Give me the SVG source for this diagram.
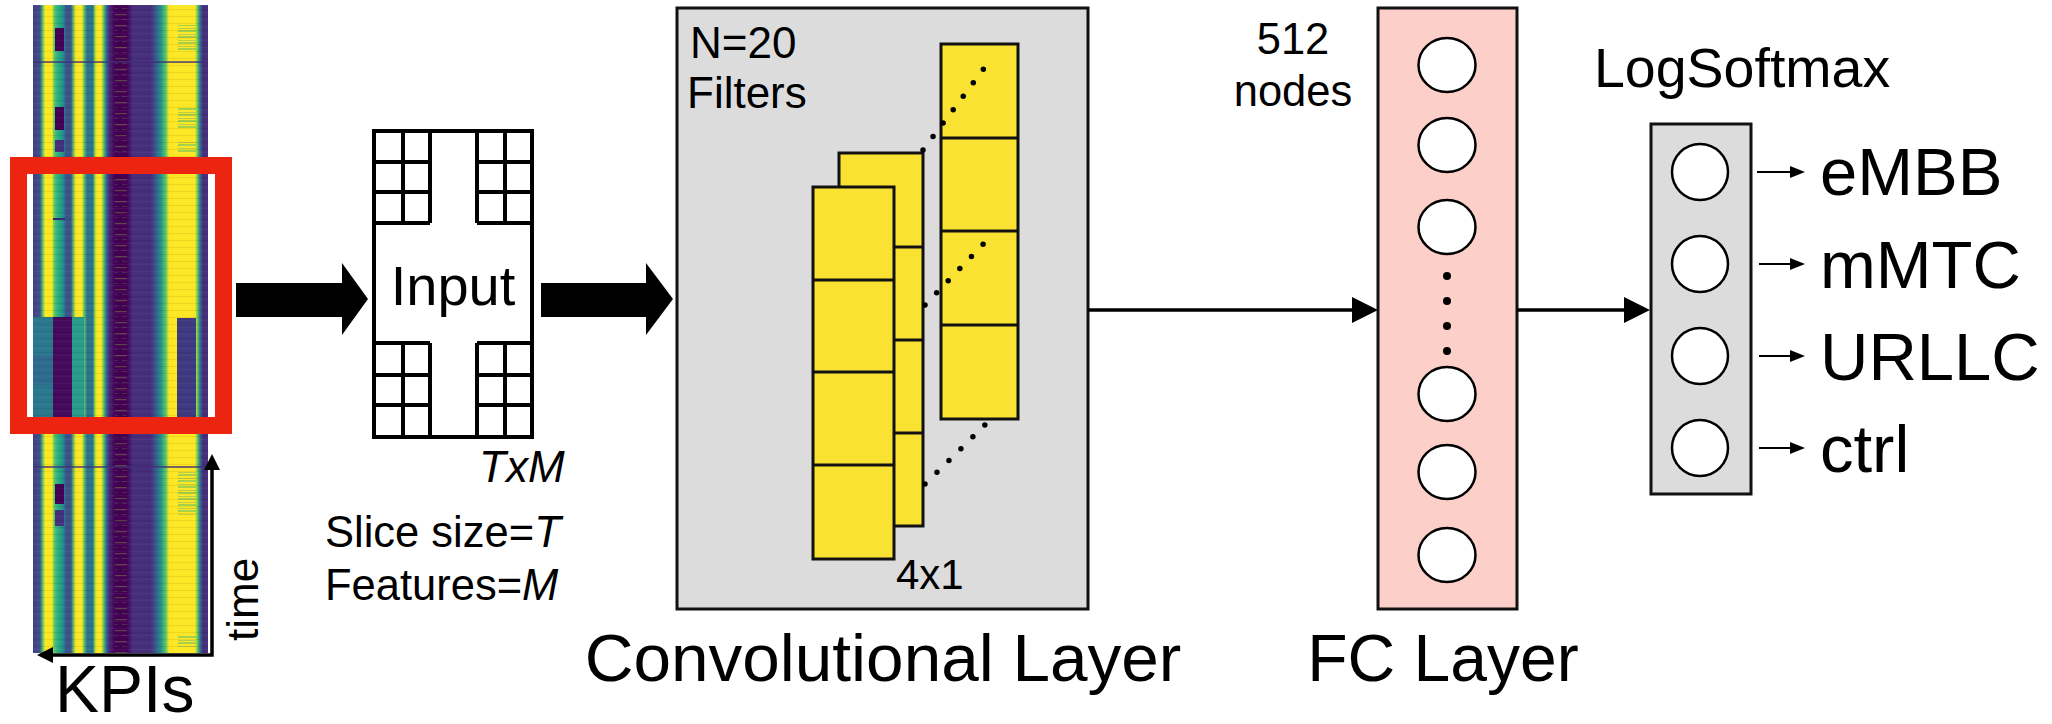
<svg xmlns="http://www.w3.org/2000/svg" width="2052" height="724" viewBox="0 0 2052 724">
<style>
text{font-family:"Liberation Sans",Arial,Helvetica,sans-serif;fill:#000}
.big{font-size:66px}
.mid{font-size:43.5px}
.grid{fill:none;stroke:#000;stroke-width:4}
.yel{fill:#FAE232;stroke:#111;stroke-width:3}
.box{stroke:#111;stroke-width:3}
.cir{fill:#fff;stroke:#000;stroke-width:2.5}
.dots{fill:none;stroke:#000;stroke-width:5.5;stroke-linecap:round;stroke-dasharray:0 16.8}
.conn{fill:none;stroke:#000;stroke-width:3.5}
.thin{fill:none;stroke:#000;stroke-width:2.2}
</style>
<defs>
<linearGradient id="hm" x1="0" y1="0" x2="1" y2="0">
<stop offset="0" stop-color="#433e85"/>
<stop offset="0.04" stop-color="#3b528b"/>
<stop offset="0.057" stop-color="#5ec962"/>
<stop offset="0.069" stop-color="#fde725"/>
<stop offset="0.109" stop-color="#fde725"/>
<stop offset="0.12" stop-color="#5ec962"/>
<stop offset="0.137" stop-color="#2fb47c"/>
<stop offset="0.171" stop-color="#21918c"/>
<stop offset="0.189" stop-color="#3b528b"/>
<stop offset="0.217" stop-color="#3b528b"/>
<stop offset="0.234" stop-color="#7ad151"/>
<stop offset="0.246" stop-color="#fde725"/>
<stop offset="0.28" stop-color="#fde725"/>
<stop offset="0.291" stop-color="#5ec962"/>
<stop offset="0.309" stop-color="#2c728e"/>
<stop offset="0.343" stop-color="#2c728e"/>
<stop offset="0.354" stop-color="#a0da39"/>
<stop offset="0.366" stop-color="#fde725"/>
<stop offset="0.389" stop-color="#fde725"/>
<stop offset="0.4" stop-color="#7ad151"/>
<stop offset="0.417" stop-color="#2a788e"/>
<stop offset="0.434" stop-color="#472d7b"/>
<stop offset="0.469" stop-color="#440154"/>
<stop offset="0.537" stop-color="#440154"/>
<stop offset="0.571" stop-color="#46307e"/>
<stop offset="0.669" stop-color="#472d7b"/>
<stop offset="0.697" stop-color="#3b528b"/>
<stop offset="0.731" stop-color="#21918c"/>
<stop offset="0.76" stop-color="#5ec962"/>
<stop offset="0.777" stop-color="#fde725"/>
<stop offset="0.926" stop-color="#fde725"/>
<stop offset="0.937" stop-color="#7ad151"/>
<stop offset="0.954" stop-color="#2a788e"/>
<stop offset="0.971" stop-color="#472d7b"/>
<stop offset="1" stop-color="#46307e"/>
</linearGradient>
<pattern id="speck" width="12" height="11" patternUnits="userSpaceOnUse">
<rect x="0" y="3" width="12" height="1.2" fill="#a0da39" opacity="0.3"/>
<rect x="2" y="8" width="8" height="1" fill="#7ad151" opacity="0.2"/>
</pattern>
<pattern id="noise" width="175" height="7" patternUnits="userSpaceOnUse">
<rect x="0" y="2" width="175" height="1" fill="#000" opacity="0.07"/>
<rect x="0" y="5" width="175" height="1" fill="#fff" opacity="0.04"/>
</pattern>
<pattern id="tealLines" width="18" height="6" patternUnits="userSpaceOnUse">
<rect x="0" y="0" width="18" height="2" fill="#35b779" opacity="0.45"/>
<rect x="0" y="4" width="18" height="1" fill="#21918c" opacity="0.3"/>
</pattern>
<marker id="ah" markerUnits="userSpaceOnUse" markerWidth="26" markerHeight="26" refX="6" refY="13" orient="auto"><path d="M0,0 L26,13 L0,26 Z" fill="#000"/></marker>
<marker id="ahs" markerUnits="userSpaceOnUse" markerWidth="15" markerHeight="12" refX="5" refY="6" orient="auto"><path d="M0,0 L15,6 L0,12 Z" fill="#000"/></marker>
<marker id="aha" markerUnits="userSpaceOnUse" markerWidth="16" markerHeight="16" refX="5" refY="8" orient="auto-start-reverse"><path d="M0,0 L16,8 L0,16 Z" fill="#000"/></marker>
</defs>
<rect width="2052" height="724" fill="#fff"/>

<g id="kpi-heatmap">
<rect x="33" y="5" width="175" height="648" fill="url(#hm)"/>
<!-- lower part of the slice: some KPIs drop -->
<rect x="33" y="317" width="20" height="109" fill="#2a788e"/>
<rect x="33" y="355" width="20" height="30" fill="#31688e" opacity="0.8"/>
<rect x="53" y="317" width="19" height="109" fill="#450a5c"/>
<rect x="72" y="317" width="12" height="109" fill="#2a9a8a"/>
<rect x="177" y="318" width="19" height="108" fill="#3e3a80"/>
<!-- dark blocks -->
<rect x="55" y="28" width="9" height="23" fill="#440154"/>
<rect x="55" y="107" width="9" height="23" fill="#440154"/>
<rect x="55" y="140" width="9" height="12" fill="#46307e"/>
<rect x="55" y="484" width="9" height="20" fill="#440154"/>
<rect x="55" y="510" width="9" height="16" fill="#46307e"/>
<!-- right column speckles -->
<rect x="178" y="25" width="18" height="26" fill="url(#tealLines)"/>
<rect x="178" y="108" width="18" height="22" fill="url(#tealLines)"/>
<rect x="178" y="142" width="18" height="10" fill="url(#tealLines)"/>
<rect x="178" y="470" width="18" height="46" fill="url(#tealLines)"/>
<rect x="178" y="636" width="18" height="12" fill="url(#tealLines)"/>
<!-- thin dark lines -->
<rect x="33" y="61" width="175" height="2" fill="#3b2a75" opacity="0.7"/>
<rect x="33" y="466" width="175" height="2" fill="#3b2a75" opacity="0.7"/>
<rect x="53" y="218" width="12" height="2" fill="#3b2a75"/>
<rect x="115" y="5" width="12" height="648" fill="url(#speck)"/>
<rect x="33" y="5" width="175" height="648" fill="url(#noise)"/>
<!-- selection box -->
<rect x="18.5" y="165.5" width="205" height="260" fill="none" stroke="#ED2410" stroke-width="17"/>
<!-- axes -->
<polyline points="48,655 212,655 212,465" fill="none" stroke="#000" stroke-width="3.5" marker-start="url(#aha)" marker-end="url(#aha)"/>
<text transform="translate(258,641) rotate(-90)" style="font-size:44px">time</text>
<text class="big" x="55" y="712">KPIs</text>
</g>

<g id="input">
<rect x="374" y="131" width="158" height="306" fill="#fff" stroke="#000" stroke-width="4"/>
<path class="grid" d="M403,131 V223 M430,131 V223 M374,162 H430 M374,192 H430 M374,223 H430
M477,131 V223 M505,131 V223 M477,162 H532 M477,192 H532 M477,223 H532
M403,343 V437 M430,343 V437 M374,343 H430 M374,375 H430 M374,405 H430
M477,343 V437 M505,343 V437 M477,343 H532 M477,375 H532 M477,405 H532"/>
<text x="453" y="305" text-anchor="middle" style="font-size:56px">Input</text>
<text x="479" y="482" font-style="italic" style="font-size:44px">TxM</text>
<text class="mid" x="325" y="547">Slice size=<tspan font-style="italic">T</tspan></text>
<text class="mid" x="325" y="600">Features=<tspan font-style="italic">M</tspan></text>
</g>

<g id="conv-layer">
<rect class="box" x="677" y="8" width="411" height="601" fill="#DCDCDC"/>
<text x="690" y="58" style="font-size:44px">N=20</text>
<text x="687" y="108" style="font-size:44px">Filters</text>
<rect class="yel" x="839" y="153" width="84" height="373"/>
<path fill="none" stroke="#111" stroke-width="3" d="M894,247 H923 M894,340 H923 M894,433 H923"/>
<rect class="yel" x="813" y="187" width="81" height="372"/>
<path fill="none" stroke="#111" stroke-width="3" d="M813,280 H894 M813,372 H894 M813,465 H894"/>
<rect class="yel" x="941" y="44" width="77" height="375"/>
<path fill="none" stroke="#111" stroke-width="3" d="M941,138 H1018 M941,231 H1018 M941,325 H1018"/>
<line class="dots" x1="923" y1="150" x2="991" y2="59"/>
<line class="dots" x1="925" y1="305" x2="991" y2="236"/>
<line class="dots" x1="925" y1="484" x2="991" y2="419"/>
<text x="896" y="589" style="font-size:42px">4x1</text>
<text x="883" y="681" text-anchor="middle" style="font-size:67.5px">Convolutional Layer</text>
</g>

<g id="fc-layer">
<rect class="box" x="1378" y="8" width="139" height="601" fill="#FCCFC9"/>
<ellipse class="cir" cx="1447" cy="65" rx="28.5" ry="27"/>
<ellipse class="cir" cx="1447" cy="145" rx="28.5" ry="27"/>
<ellipse class="cir" cx="1447" cy="227" rx="28.5" ry="27"/>
<circle cx="1447" cy="276" r="4"/>
<circle cx="1447" cy="301" r="4"/>
<circle cx="1447" cy="326" r="4"/>
<circle cx="1447" cy="351" r="4"/>
<ellipse class="cir" cx="1447" cy="394" rx="28.5" ry="27"/>
<ellipse class="cir" cx="1447" cy="472" rx="28.5" ry="27"/>
<ellipse class="cir" cx="1447" cy="555" rx="28.5" ry="27"/>
<text class="mid" x="1293" y="54" text-anchor="middle">512</text>
<text class="mid" x="1293" y="106" text-anchor="middle">nodes</text>
<text class="big" x="1443" y="681" text-anchor="middle">FC Layer</text>
</g>

<g id="logsoftmax">
<rect class="box" x="1651" y="124" width="100" height="370" fill="#DCDCDC"/>
<circle class="cir" cx="1700" cy="172" r="28"/>
<circle class="cir" cx="1700" cy="264" r="28"/>
<circle class="cir" cx="1700" cy="356" r="28"/>
<circle class="cir" cx="1700" cy="448" r="28"/>
<text x="1594" y="87" style="font-size:55.5px">LogSoftmax</text>
</g>

<g id="out-embb"><text x="1820" y="195" style="font-size:67px">eMBB</text></g>
<g id="out-mmtc"><text x="1820" y="288" style="font-size:67px">mMTC</text></g>
<g id="out-urllc"><text x="1820" y="380" style="font-size:67px">URLLC</text></g>
<g id="out-ctrl"><text x="1820" y="472" style="font-size:67px">ctrl</text></g>

<g id="connectors">
<polygon points="236,283 342,283 342,263 368,299 342,335 342,317 236,317" fill="#000"/>
<polygon points="541,283 646,283 646,263 673,299 646,335 646,317 541,317" fill="#000"/>
<line class="conn" x1="1088" y1="310" x2="1358" y2="310" marker-end="url(#ah)"/>
<line class="conn" x1="1517" y1="310" x2="1630" y2="310" marker-end="url(#ah)"/>
<line class="thin" x1="1757" y1="172" x2="1795" y2="172" marker-end="url(#ahs)"/>
<line class="thin" x1="1759" y1="264" x2="1795" y2="264" marker-end="url(#ahs)"/>
<line class="thin" x1="1759" y1="356" x2="1795" y2="356" marker-end="url(#ahs)"/>
<line class="thin" x1="1759" y1="448" x2="1795" y2="448" marker-end="url(#ahs)"/>
</g>
</svg>
